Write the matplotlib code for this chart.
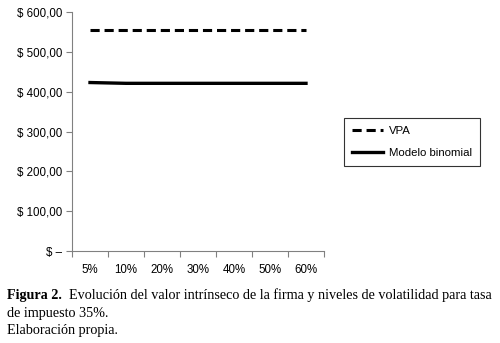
import numpy as np
import matplotlib
matplotlib.use('Agg')
import matplotlib.pyplot as plt
from matplotlib.ticker import FixedLocator, FuncFormatter

volatilidad = ['5%', '10%', '20%', '30%', '40%', '50%', '60%']
vpa = [556, 556, 556, 556, 556, 556, 556]
binomial = [423, 421, 421, 421, 421, 421, 421]
y_ticks = [0, 100, 200, 300, 400, 500, 600]

fig = plt.figure(figsize=(5.0, 3.43), dpi=100)
ax = fig.add_axes([0.144, 0.268, 0.504, 0.697])

x = np.arange(len(volatilidad))
ax.plot(x, vpa, color='black', lw=2.2, ls=(0, (3, 1.6)), label='VPA')
ax.plot(x, binomial, color='black', lw=2.4, label='Modelo binomial')

ax.set_xlim(-0.5, len(volatilidad) - 0.5)
ax.set_ylim(0, 600)
ax.set_yticks(y_ticks)

def fmt(v, pos):
    if v == 0:
        return '$ \u2013'
    return '$ {:,.2f}'.format(v).replace(',', 'X').replace('.', ',').replace('X', '.')

ax.yaxis.set_major_formatter(FuncFormatter(fmt))
ax.set_xticks(x)
ax.set_xticklabels(volatilidad)
ax.xaxis.set_minor_locator(FixedLocator(np.arange(-0.5, len(volatilidad), 1.0)))
ax.tick_params(axis='x', which='major', length=0, pad=9)
ax.tick_params(axis='x', which='minor', length=4, color='#808080', width=0.8)
ax.tick_params(axis='y', length=4, color='#808080', width=0.8, pad=3)
for lab in ax.get_xticklabels() + ax.get_yticklabels():
    lab.set_fontfamily('Liberation Sans')
    lab.set_fontsize(8.3)

for s in ['top', 'right']:
    ax.spines[s].set_visible(False)
for s in ['left', 'bottom']:
    ax.spines[s].set_color('#808080')
    ax.spines[s].set_linewidth(0.8)

leg = fig.legend(loc='upper left', bbox_to_anchor=(0.688, 0.656), frameon=True,
                 fancybox=False, edgecolor='black', handlelength=2.7,
                 prop={'family': 'Liberation Sans', 'size': 8.2},
                 borderpad=0.7, labelspacing=1.05, handletextpad=0.55,
                 borderaxespad=0)
leg.get_frame().set_linewidth(0.8)

# caption
cap = dict(fontsize=10.2, family='Liberation Serif', va='baseline')
t_bold = fig.text(0.014, 0.127, 'Figura 2.', fontweight='bold', **cap)
fig.canvas.draw()
bb = t_bold.get_window_extent(fig.canvas.get_renderer())
x0 = bb.x1 / fig.bbox.width + 0.014
fig.text(x0, 0.127, 'Evolución del valor intrínseco de la firma y niveles de volatilidad para tasa', **cap)
fig.text(0.014, 0.077, 'de impuesto 35%.', **cap)
fig.text(0.014, 0.027, 'Elaboración propia.', **cap)

fig.savefig('out.png', dpi=100)
